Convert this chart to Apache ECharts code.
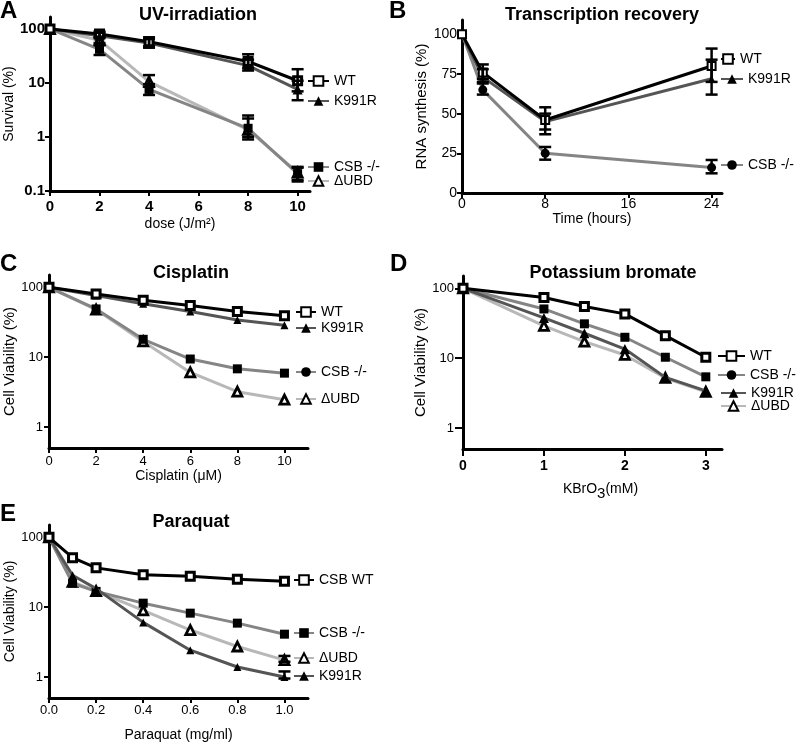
<!DOCTYPE html>
<html><head><meta charset="utf-8">
<script src="https://cdn.jsdelivr.net/npm/echarts@6/dist/echarts.min.js"></script>
<style>html,body{margin:0;padding:0;background:#fff}#c{width:796px;height:743px}</style>
</head><body><div id="c"></div>
<script>
// ---------------- DATA ----------------
// A: UV-irradiation
const A_x = [0, 2, 4, 8, 10];
const A_WT = [100, 81, 58, 25, 11];
const A_K991R = [100, 75, 55, 21, 7.6];
const A_CSB = [100, 42, 7.6, 1.45, 0.21];
const A_UBD = [100, 62, 10.6, 1.35, 0.22];
const A_WT_lo = [null, 72, 48, 19, 7];
const A_WT_hi = [null, 90, 70, 34, 18];
const A_K991R_lo = [null, 68, 45, 17, 4.8];
const A_K991R_hi = [null, 85, 65, 27, 11];
const A_CSB_lo = [null, 33, 6, 0.9, 0.15];
const A_CSB_hi = [null, 50, 9.5, 2.2, 0.27];
const A_UBD_lo = [null, 55, 8.5, 1.0, 0.16];
const A_UBD_hi = [null, 70, 14, 2.5, 0.28];
const A_xTicks = [0, 2, 4, 6, 8, 10];
const A_yTicks = [0.1, 1, 10, 100];

// B: Transcription recovery
const B_x = [0, 2, 8, 24];
const B_WT = [100, 76, 46, 80];
const B_K991R = [100, 73, 45, 72];
const B_CSB = [100, 65, 25, 16];
const B_WT_lo = [null, 72, 37, 70];
const B_WT_hi = [null, 81, 54, 91];
const B_K991R_lo = [null, 70, 40, 62];
const B_K991R_hi = [null, 78, 50, 84];
const B_CSB_lo = [null, 62, 21, 12.4];
const B_CSB_hi = [null, 69, 29, 20.8];
const B_xTicks = [0, 8, 16, 24];
const B_yTicks = [0, 25, 50, 75, 100];

// C: Cisplatin
const C_x = [0, 2, 4, 6, 8, 10];
const C_WT = [100, 80, 65, 55, 45, 39];
const C_K991R = [100, 76, 58, 45, 34, 28.6];
const C_CSB = [100, 49, 18, 9.4, 6.8, 5.9];
const C_UBD = [100, 48, 16.8, 6.05, 3.2, 2.46];
const C_xTicks = [0, 2, 4, 6, 8, 10];
const C_yTicks = [1, 10, 100];

// D: Potassium bromate
const D_x = [0, 1, 1.5, 2, 2.5, 3];
const D_WT = [100, 74, 55, 43, 21, 10.3];
const D_CSB = [100, 50.6, 31, 19.9, 10.3, 5.4];
const D_K991R = [100, 37.6, 22.7, 13.5, 5.3, 3.4];
const D_UBD = [100, 29, 17.2, 11.1, 5.2, 3.3];
const D_xTicks = [0, 1, 2, 3];
const D_yTicks = [1, 10, 100];

// E: Paraquat
const E_x = [0, 0.1, 0.2, 0.4, 0.6, 0.8, 1.0];
const E_WT = [100, 51, 36.5, 29, 27.7, 25, 23.4];
const E_CSB = [100, 22, 16.8, 11.4, 8.2, 5.9, 4.1];
const E_UBD = [100, 23, 17, 9, 4.7, 2.73, 1.74];
const E_K991R = [100, 28.6, 18.4, 6.05, 2.42, 1.39, 1.0];
const E_UBD_lo = [null, null, null, null, null, null, 1.65];
const E_UBD_hi = [null, null, null, null, null, null, 2.0];
const E_K991R_lo = [null, null, null, null, null, null, 0.95];
const E_K991R_hi = [null, null, null, null, null, null, 1.2];
const E_xTicks = [0, 0.2, 0.4, 0.6, 0.8, 1.0];
const E_yTicks = [1, 10, 100];

// ---------------- STYLE ----------------
const FF = 'Liberation Sans, Arial, sans-serif';
const STY = {
  WT:    {line: '#000000', symbol: 'rect', fill: '#ffffff', bw: 3, size: 8, z: 6},
  K991R: {line: '#555555', symbol: 'triangle', fill: '#000000', bw: 0, size: 10, z: 5},
  CSB:   {line: '#858585', symbol: 'rect', fill: '#000000', bw: 0, size: 9, z: 4},
  UBD:   {line: '#b8b8b8', symbol: 'triangle', fill: '#ffffff', bw: 2.8, size: 9, z: 3}
};

function line(gi, name, xs, ys, key, over) {
  const s = Object.assign({}, STY[key], over || {});
  return {
    type: 'line', name: name, xAxisIndex: gi, yAxisIndex: gi,
    data: xs.map((x, i) => [x, ys[i]]),
    symbol: s.symbol, symbolSize: s.size, showAllSymbol: true,
    lineStyle: {color: s.line, width: 3},
    itemStyle: {color: s.fill, borderColor: '#000', borderWidth: s.bw},
    z: s.z, clip: false, animation: false, emphasis: {disabled: true}, silent: true
  };
}
function dummy(gi, name, symbol, key) {
  const s = STY[key];
  return {
    type: 'line', name: name, xAxisIndex: gi, yAxisIndex: gi, data: [],
    symbol: symbol, symbolSize: 8,
    lineStyle: {color: s.line, width: 3},
    itemStyle: {color: s.fill, borderColor: '#000', borderWidth: s.bw},
    animation: false
  };
}
function errs(gi, xs, lo, hi) {
  const data = [];
  xs.forEach((x, i) => { if (lo[i] != null) data.push([x, lo[i], hi[i]]); });
  return {
    type: 'custom', xAxisIndex: gi, yAxisIndex: gi, data: data, z: 8, silent: true, clip: false,
    animation: false, encode: {x: 0, y: [1, 2]},
    renderItem: function (p, api) {
      const x = api.value(0);
      const a = api.coord([x, api.value(1)]);
      const b = api.coord([x, api.value(2)]);
      const w = 6, st = {stroke: '#000', lineWidth: 2.5};
      return {type: 'group', children: [
        {type: 'line', shape: {x1: a[0], y1: a[1], x2: b[0], y2: b[1]}, style: st},
        {type: 'line', shape: {x1: a[0] - w, y1: a[1], x2: a[0] + w, y2: a[1]}, style: st},
        {type: 'line', shape: {x1: b[0] - w, y1: b[1], x2: b[0] + w, y2: b[1]}, style: st}
      ]};
    }
  };
}
function leg(name, left, cy, iw) {
  return {
    show: true, data: [name], left: left, top: cy - 8, orient: 'horizontal', padding: 0,
    itemWidth: iw, itemHeight: 12, selectedMode: false,
    formatter: n => n.split('#')[0],
    textStyle: {fontSize: 14, color: '#000', fontFamily: FF}
  };
}
function xax(gi, min, max, ticks, name, o) {
  return {
    type: 'value', gridIndex: gi, min: min, max: max,
    name: name, nameLocation: 'middle', nameGap: o.gap,
    nameTextStyle: Object.assign({fontSize: 14, color: '#000', fontFamily: FF}, o.nts || {}),
    axisLine: {show: true, onZero: false, lineStyle: {color: '#000', width: 3}},
    axisTick: {show: true, inside: false, length: o.tl || 5, lineStyle: {color: '#000', width: 2}, customValues: ticks},
    axisLabel: {show: true, color: '#000', fontFamily: FF, fontSize: o.fs || 13, fontWeight: o.bold ? 'bold' : 'normal',
      margin: o.margin, customValues: ticks, formatter: o.fmt || (v => String(v))},
    splitLine: {show: false}
  };
}
function yax(gi, type, min, max, ticks, name, o) {
  return {
    type: type, gridIndex: gi, min: min, max: max, logBase: 10,
    name: name, nameLocation: 'middle', nameGap: o.gap,
    nameTextStyle: {fontSize: o.nfs || 14, color: '#000', fontFamily: FF},
    axisLine: {show: true, onZero: false, lineStyle: {color: '#000', width: 3}},
    axisTick: {show: true, inside: false, length: o.tl || 5, lineStyle: {color: '#000', width: 2}, customValues: ticks},
    axisLabel: {show: true, color: '#000', fontFamily: FF, fontSize: o.fs || 13, fontWeight: o.bold ? 'bold' : 'normal',
      margin: o.margin, customValues: ticks, formatter: v => String(v)},
    minorTick: {show: false}, splitLine: {show: false}
  };
}
function txt(t, x, y, size, align) {
  return {type: 'text', x: x, y: y, silent: true,
    style: {text: t, fontSize: size, fontWeight: 'bold', fontFamily: FF, fill: '#000',
      textAlign: align || 'center', textVerticalAlign: 'middle'}};
}

const option = {
  animation: false,
  backgroundColor: '#fff',
  grid: [
    {left: 50, top: 17, width: 260, height: 174, containLabel: false, outerBoundsMode: 'none'},
    {left: 462, top: 20, width: 260, height: 173, containLabel: false, outerBoundsMode: 'none'},
    {left: 49, top: 275, width: 259, height: 173, containLabel: false, outerBoundsMode: 'none'},
    {left: 463, top: 276, width: 259, height: 173, containLabel: false, outerBoundsMode: 'none'},
    {left: 49, top: 525, width: 259, height: 173, containLabel: false, outerBoundsMode: 'none'}
  ],
  xAxis: [
    xax(0, 0, 10.5, A_xTicks, 'dose (J/m²)', {gap: 26, margin: 8, fs: 15, bold: true}),
    xax(1, 0, 25, B_xTicks, 'Time (hours)', {gap: 18, margin: 4, fs: 14}),
    xax(2, 0, 11, C_xTicks, 'Cisplatin (μM)', {gap: 15, margin: 7, fs: 13}),
    xax(3, 0, 3.2, D_xTicks, 'KBrO{s|3}(mM)', {gap: 29, margin: 10, fs: 14, bold: true, tl: 7,
      nts: {padding: [0, 0, 0, 16], rich: {s: {fontSize: 15, fontFamily: FF, color: '#000', padding: [8, 0, 0, 0]}}}}),
    xax(4, 0, 1.1, E_xTicks, 'Paraquat (mg/ml)', {gap: 30, margin: 6, fs: 13, fmt: v => v.toFixed(1)})
  ],
  yAxis: [
    yax(0, 'log', 0.1, 166.7, A_yTicks, 'Survival (%)', {gap: 31, margin: 5, fs: 15, bold: true, nfs: 14}),
    yax(1, 'value', 0, 109, B_yTicks, 'RNA synthesis (%)', {gap: 28, margin: 5, fs: 14, nfs: 15}),
    yax(2, 'log', 0.5, 150, C_yTicks, 'Cell Viability (%)', {gap: 30, margin: 6, fs: 13, nfs: 15}),
    yax(3, 'log', 0.5, 150, D_yTicks, 'Cell Viability (%)', {gap: 29, margin: 9, fs: 13, nfs: 15, tl: 8}),
    yax(4, 'log', 0.5, 150, E_yTicks, 'Cell Viability (%)', {gap: 30, margin: 6, fs: 13, nfs: 14})
  ],
  legend: [
    leg('WT#A', 307, 82, 21), leg('K991R#A', 307, 102, 21), leg('CSB -/-#A', 307, 168, 21), leg('ΔUBD#A', 307, 182, 21),
    leg('WT#B', 720, 60, 14), leg('K991R#B', 720, 80, 22), leg('CSB -/-#B', 720, 166, 22),
    leg('WT#C', 295, 313, 20), leg('K991R#C', 295, 329, 20), leg('CSB -/-#C', 295, 373, 20), leg('ΔUBD#C', 295, 400, 20),
    leg('WT#D', 717, 357, 27), leg('CSB -/-#D', 717, 376, 27), leg('K991R#D', 720, 394, 25), leg('ΔUBD#D', 720, 407, 25),
    leg('CSB WT#E', 293, 581, 20), leg('CSB -/-#E', 293, 634, 20), leg('ΔUBD#E', 293, 659, 20), leg('K991R#E', 293, 677, 20)
  ],
  graphic: [
    txt('A', 0, 11, 24, 'left'), txt('B', 389, 11, 24, 'left'), txt('C', 0, 264, 24, 'left'),
    txt('D', 390, 264, 24, 'left'), txt('E', 0, 514, 24, 'left'),
    txt('UV-irradiation', 198, 15, 18), txt('Transcription recovery', 602, 15, 18),
    txt('Cisplatin', 191, 273, 18), txt('Potassium bromate', 613, 273, 18), txt('Paraquat', 191, 522, 18)
  ],
  series: [
    // A
    line(0, 'ΔUBD#A', A_x, A_UBD, 'UBD'),
    line(0, 'CSB -/-#A', A_x, A_CSB, 'CSB'),
    line(0, 'K991R#A', A_x, A_K991R, 'K991R'),
    line(0, 'WT#A', A_x, A_WT, 'WT'),
    errs(0, A_x, A_UBD_lo, A_UBD_hi), errs(0, A_x, A_CSB_lo, A_CSB_hi),
    errs(0, A_x, A_K991R_lo, A_K991R_hi), errs(0, A_x, A_WT_lo, A_WT_hi),
    // B
    line(1, 'CSB -/-#B', B_x, B_CSB, 'CSB', {symbol: 'circle', size: 9}),
    line(1, 'K991R#B', B_x, B_K991R, 'K991R', {size: 7}),
    line(1, 'WT#B', B_x, B_WT, 'WT', {size: 8, bw: 2}),
    errs(1, B_x, B_CSB_lo, B_CSB_hi), errs(1, B_x, B_K991R_lo, B_K991R_hi), errs(1, B_x, B_WT_lo, B_WT_hi),
    // C
    line(2, 'ΔUBD#C', C_x, C_UBD, 'UBD'),
    dummy(2, 'CSB -/-#C', 'circle', 'CSB'),
    line(2, 'CSB -/-#C', C_x, C_CSB, 'CSB'),
    line(2, 'K991R#C', C_x, C_K991R, 'K991R', {size: 8}),
    line(2, 'WT#C', C_x, C_WT, 'WT'),
    // D
    line(3, 'ΔUBD#D', D_x, D_UBD, 'UBD'),
    line(3, 'K991R#D', D_x, D_K991R, 'K991R'),
    dummy(3, 'CSB -/-#D', 'circle', 'CSB'),
    line(3, 'CSB -/-#D', D_x, D_CSB, 'CSB'),
    line(3, 'WT#D', D_x, D_WT, 'WT'),
    // E
    line(4, 'K991R#E', E_x, E_K991R, 'K991R', {size: 8}),
    line(4, 'ΔUBD#E', E_x, E_UBD, 'UBD'),
    line(4, 'CSB -/-#E', E_x, E_CSB, 'CSB'),
    line(4, 'CSB WT#E', E_x, E_WT, 'WT'),
    errs(4, E_x, E_UBD_lo, E_UBD_hi), errs(4, E_x, E_K991R_lo, E_K991R_hi)
  ]
};
const chart = echarts.init(document.getElementById('c'), null, {renderer: 'canvas'});
chart.setOption(option);
</script>
</body></html>
